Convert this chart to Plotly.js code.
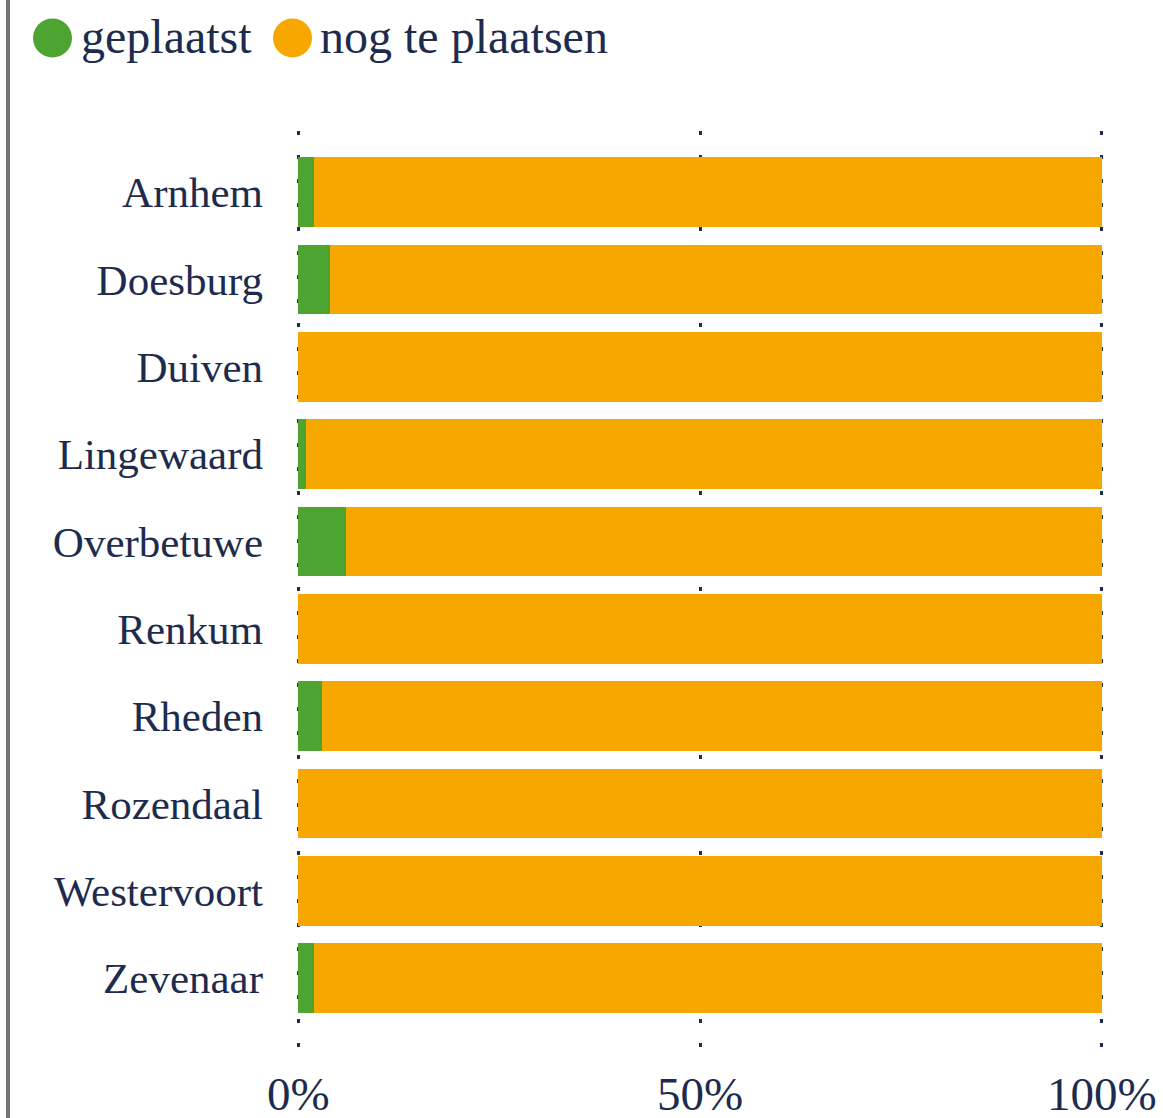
<!DOCTYPE html>
<html>
<head>
<meta charset="utf-8">
<script src="https://cdn.plot.ly/plotly-3.0.1.min.js"></script>
<style>
  html, body { margin: 0; padding: 0; background: #fff; overflow: hidden; }
  #wrap { position: relative; width: 1163px; height: 1118px; }
  #bar { position: absolute; left: 6px; top: 0; width: 4px; height: 1118px; background: #767676; z-index: 5; }
  #chart { position: absolute; left: 0; top: 0; width: 1163px; height: 1118px; }
</style>
</head>
<body>
<div id="wrap"><div id="bar"></div><div id="chart"></div></div>
<script>
const categories = ["Arnhem", "Doesburg", "Duiven", "Lingewaard", "Overbetuwe", "Renkum", "Rheden", "Rozendaal", "Westervoort", "Zevenaar"];
const seriesNames = ["geplaatst", "nog te plaatsen"];
const geplaatst = [2, 4, 0, 1, 6, 0, 3, 0, 0, 2];
const nogTePlaatsen = [98, 96, 100, 99, 94, 100, 97, 100, 100, 98];
const tickVals = [0, 50, 100];
const tickLabels = ["0%", "50%", "100%"];
const colors = ["#4EA430", "#F7A800"];

const navy = "#1D2C4E";
const font = "'Liberation Serif', 'Times New Roman', Times, serif";

const W = 1163, H = 1118;
const mL = 295, mR = 58, mT = 131, mB = 70;
const pw = W - mL - mR, ph = H - mT - mB;
const px2x = p => (p - mL) / pw;
const py2y = p => (H - mB - p) / ph;

const traces = [geplaatst, nogTePlaatsen].map((vals, i) => ({
  type: "bar",
  orientation: "h",
  name: seriesNames[i],
  y: categories,
  x: vals,
  marker: { color: colors[i], line: { width: 0 } },
  showlegend: false,
  hoverinfo: "x+y+name"
}));

// custom legend (circles + labels)
const legendItems = [
  { cx: 52.5, tx: 79 },
  { cx: 292.5, tx: 318 }
];
const shapes = legendItems.map((it, i) => ({
  type: "circle",
  xref: "paper", yref: "paper",
  xsizemode: "pixel", ysizemode: "pixel",
  xanchor: px2x(it.cx), yanchor: py2y(38),
  x0: -19.5, x1: 19.5, y0: -19.5, y1: 19.5,
  fillcolor: colors[i],
  line: { width: 0 }
}));
const annotations = legendItems.map((it, i) => ({
  xref: "paper", yref: "paper",
  x: px2x(it.tx), y: py2y(37),
  xanchor: "left", yanchor: "middle",
  text: seriesNames[i],
  showarrow: false,
  font: { family: font, size: 48, color: navy }
}));

const layout = {
  width: W, height: H,
  margin: { l: mL, r: mR, t: mT, b: mB, pad: 0 },
  barmode: "stack",
  bargap: 0.2,
  paper_bgcolor: "#fff",
  plot_bgcolor: "#fff",
  showlegend: false,
  font: { family: font, color: navy },
  xaxis: {
    range: [-0.4, 100.4],
    tickvals: tickVals,
    ticktext: tickLabels,
    showgrid: true,
    gridcolor: navy,
    gridwidth: 3,
    griddash: "4px,20px",
    zeroline: false,
    showline: false,
    ticks: "",
    ticklabelstandoff: 14,
    tickfont: { family: font, size: 47, color: navy },
    fixedrange: true
  },
  yaxis: {
    type: "category",
    categoryorder: "array",
    categoryarray: categories,
    range: [9.8, -0.7],
    showgrid: false,
    zeroline: false,
    showline: false,
    ticks: "",
    ticklabelstandoff: 31,
    tickfont: { family: font, size: 43, color: navy },
    fixedrange: true
  },
  shapes: shapes,
  annotations: annotations
};

Plotly.newPlot("chart", traces, layout, { displayModeBar: false, staticPlot: true });
</script>
</body>
</html>
